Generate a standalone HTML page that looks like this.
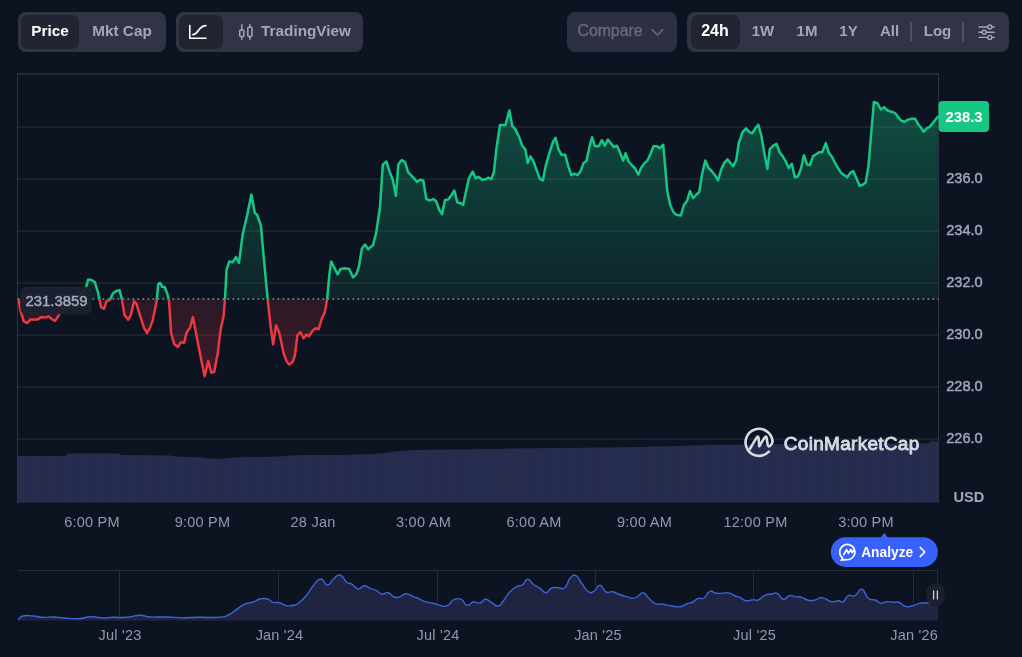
<!DOCTYPE html>
<html><head><meta charset="utf-8"><title>Chart</title>
<style>
html,body{margin:0;padding:0;}
body{width:1022px;height:657px;background:#0d1421;overflow:hidden;position:relative;font-family:"Liberation Sans",sans-serif;}
.grp{position:absolute;top:12px;height:40px;background:#313445;border-radius:8px;will-change:transform;}
.sel{position:absolute;top:3px;height:34px;background:#222531;border-radius:7px;}
.t{position:absolute;top:0;height:40px;line-height:37px;font-size:15.3px;font-weight:bold;color:#a1a7bb;white-space:nowrap;text-align:center;transform:translateX(-50%);}
.w{color:#fff;}
svg{position:absolute;left:0;top:0;will-change:transform;}
svg text{font-family:"Liberation Sans",sans-serif;}
</style></head><body>

<div class="grp" style="left:18px;width:148px;">
  <div class="sel" style="left:3px;width:58px;"></div>
  <div class="t w" style="left:32px;">Price</div>
  <div class="t" style="left:104px;">Mkt Cap</div>
</div>

<div class="grp" style="left:176px;width:187px;">
  <div class="sel" style="left:3px;width:44px;"></div>
  <div class="t" style="left:130px;">TradingView</div>
</div>

<div class="grp" style="left:567px;width:110px;background:#2d3042;">
  <div class="t" style="left:43px;color:#646b80;font-weight:normal;font-size:15.8px;-webkit-text-stroke:0.35px #646b80;">Compare</div>
</div>

<div class="grp" style="left:687px;width:322px;">
  <div class="sel" style="left:4px;width:49px;"></div>
  <div class="t w" style="left:28px;font-size:16px;">24h</div>
  <div class="t" style="left:76px;font-size:15px;line-height:38px;">1W</div>
  <div class="t" style="left:120px;font-size:15px;line-height:38px;">1M</div>
  <div class="t" style="left:161.5px;font-size:15px;line-height:38px;">1Y</div>
  <div class="t" style="left:202.5px;font-size:15px;line-height:38px;">All</div>
  <div class="t" style="left:250.5px;font-size:15px;line-height:38px;">Log</div>
</div>

<svg width="1022" height="657" viewBox="0 0 1022 657">
  <defs>
    <clipPath id="au"><rect x="0" y="60" width="937.8" height="239"/></clipPath>
    <clipPath id="ad"><rect x="0" y="299" width="937.8" height="140"/></clipPath>
    <clipPath id="cu"><rect x="0" y="60" width="1022" height="239"/></clipPath>
    <clipPath id="cd"><rect x="0" y="299" width="1022" height="140"/></clipPath>
    <pattern id="vs" x="17.5" y="0" width="3.198" height="10" patternUnits="userSpaceOnUse"><rect x="0" y="0" width="0.9" height="10" fill="#1b2040" fill-opacity="0.55"/></pattern>
    <linearGradient id="gg" x1="0" y1="100" x2="0" y2="299" gradientUnits="userSpaceOnUse">
      <stop offset="0" stop-color="#16c784" stop-opacity="0.33"/>
      <stop offset="1" stop-color="#16c784" stop-opacity="0.09"/>
    </linearGradient>
    <linearGradient id="gr" x1="0" y1="299" x2="0" y2="380" gradientUnits="userSpaceOnUse">
      <stop offset="0" stop-color="#ea3943" stop-opacity="0.14"/>
      <stop offset="1" stop-color="#ea3943" stop-opacity="0.21"/>
    </linearGradient>
  </defs>

  <!-- toolbar icons -->
  <g fill="none" stroke="#fff" stroke-width="1.6" stroke-linecap="round" stroke-linejoin="round">
    <path d="M189.8,25.5 V38.3 H206"/>
    <path d="M192.8,34.6 C199,34.6 198,25.6 206,25.6"/>
  </g>
  <g fill="none" stroke="#a1a7bb" stroke-width="1.5" stroke-linecap="round" stroke-linejoin="round">
    <path d="M241.8,24.8 V30 M241.8,36.4 V39.2 M249.9,24.8 V27.2 M249.9,36.4 V39.2"/>
    <rect x="239.7" y="30" width="4.2" height="6.4" rx="1"/>
    <rect x="247.8" y="27.2" width="4.2" height="9.2" rx="1"/>
  </g>
  <path d="M652.2,29.6 L657.5,35 L662.8,29.6" fill="none" stroke="#646b80" stroke-width="1.6" stroke-linecap="round" stroke-linejoin="round"/>
  <g stroke="#585d72" stroke-width="1.5">
    <line x1="911" x2="911" y1="22" y2="41.5"/>
    <line x1="963" x2="963" y1="22" y2="41.5"/>
  </g>
  <g fill="none" stroke="#a1a7bb" stroke-width="1.4" stroke-linecap="round">
    <path d="M979,27 H987.6 M992,27 H994.2 M979,32.2 H982 M986.4,32.2 H994.2 M979,37.4 H987.6 M992,37.4 H994.2"/>
    <circle cx="989.8" cy="27" r="2"/>
    <circle cx="984.2" cy="32.2" r="2"/>
    <circle cx="989.8" cy="37.4" r="2"/>
  </g>

  <!-- grid -->
  <g stroke="#2f3342" stroke-width="1" fill="none" shape-rendering="crispEdges">
    <path d="M17.5,502.5 V74 M938.5,74 V502.5"/>
  </g>
  <line x1="17.0" x2="939.0" y1="74" y2="74" stroke="#2d3140" stroke-width="1.6"/>

  <!-- volume -->
  <path d="M18.0,456.0 L65.0,456.0 L68.0,453.5 L118.0,453.5 L121.0,455.0 L170.0,455.5 L175.0,456.5 L200.0,457.5 L215.0,459.0 L225.0,458.5 L235.0,457.5 L260.0,457.0 L280.0,456.5 L300.0,455.0 L340.0,455.0 L375.0,454.0 L385.0,453.0 L395.0,451.5 L415.0,450.0 L460.0,449.5 L500.0,449.0 L511.0,448.5 L560.0,448.0 L611.0,447.5 L660.0,446.5 L711.0,445.0 L760.0,444.5 L811.0,444.0 L870.0,443.7 L926.0,443.5 L929.0,443.5 L930.0,441.5 L938.5,441.5 L938.5,502.5 L18,502.5 Z" fill="#282e50"/>
  <path d="M18.0,456.0 L65.0,456.0 L68.0,453.5 L118.0,453.5 L121.0,455.0 L170.0,455.5 L175.0,456.5 L200.0,457.5 L215.0,459.0 L225.0,458.5 L235.0,457.5 L260.0,457.0 L280.0,456.5 L300.0,455.0 L340.0,455.0 L375.0,454.0 L385.0,453.0 L395.0,451.5 L415.0,450.0 L460.0,449.5 L500.0,449.0 L511.0,448.5 L560.0,448.0 L611.0,447.5 L660.0,446.5 L711.0,445.0 L760.0,444.5 L811.0,444.0 L870.0,443.7 L926.0,443.5 L929.0,443.5 L930.0,441.5 L938.5,441.5 L938.5,502.5 L18,502.5 Z" fill="url(#vs)"/>

  <!-- area -->
  <path d="M18.8,300.1 L20.0,308.8 L23.8,321.4 L27.1,323.1 L30.6,319.4 L35.1,319.6 L37.6,319.4 L41.3,317.1 L45.1,317.6 L48.8,316.4 L51.4,318.9 L55.1,320.9 L58.9,315.1 L65.6,305.1 L72.6,300.1 L80.2,295.1 L86.4,286.3 L88.2,279.5 L91.4,280.0 L94.7,282.0 L97.7,291.3 L99.4,298.8 L101.0,307.1 L104.0,308.8 L106.5,301.3 L110.2,299.6 L112.7,293.8 L115.7,291.3 L119.5,290.1 L121.5,297.6 L124.5,315.1 L128.3,319.6 L130.8,315.1 L134.0,301.3 L136.5,303.8 L140.3,316.4 L144.0,327.6 L147.0,333.1 L149.8,328.1 L152.8,320.1 L156.6,301.3 L158.3,283.8 L160.3,283.0 L162.3,286.8 L164.8,287.1 L167.3,293.8 L169.1,301.3 L171.1,332.6 L174.1,343.9 L177.9,346.9 L180.9,342.2 L184.1,342.7 L186.6,332.6 L189.9,328.1 L192.9,317.1 L195.4,330.1 L200.0,353.5 L204.6,376.3 L208.2,361.1 L211.3,372.7 L214.3,371.8 L217.7,353.5 L220.7,329.2 L223.7,315.5 L225.0,298.7 L226.5,269.8 L229.2,261.6 L232.9,262.2 L235.9,257.0 L239.0,262.8 L242.6,234.8 L247.2,215.0 L251.4,194.6 L254.8,212.9 L257.2,215.0 L260.9,225.7 L263.9,259.1 L267.6,298.7 L270.6,326.1 L273.1,344.4 L276.1,325.5 L279.1,332.2 L283.7,353.5 L286.8,361.7 L289.2,364.5 L292.8,361.7 L295.0,355.0 L297.4,335.3 L300.5,332.2 L303.5,338.3 L306.5,334.6 L309.0,336.2 L312.6,330.7 L315.7,328.2 L318.7,329.2 L321.8,318.5 L324.8,312.4 L327.2,298.7 L329.4,274.4 L331.2,261.6 L333.9,266.8 L337.6,274.4 L340.6,268.9 L344.6,268.3 L349.2,268.9 L353.1,277.4 L356.2,274.4 L358.9,266.8 L361.9,248.5 L365.0,244.5 L368.3,249.4 L371.4,246.4 L373.0,245.3 L376.1,233.1 L380.0,207.2 L382.8,164.6 L386.4,161.5 L389.8,172.2 L392.8,179.8 L395.9,195.9 L398.3,164.6 L401.7,160.0 L405.0,162.1 L408.1,172.2 L412.6,176.8 L417.2,181.9 L420.2,179.8 L423.3,180.7 L426.3,199.0 L430.0,200.5 L433.0,199.0 L436.1,201.1 L439.4,210.2 L442.1,214.2 L444.9,200.2 L448.2,199.6 L451.6,195.0 L454.3,190.5 L457.4,202.6 L460.4,203.2 L463.2,204.8 L465.9,192.0 L468.9,178.3 L472.6,171.6 L475.6,178.3 L478.4,176.8 L482.0,179.8 L485.7,179.2 L488.7,177.7 L491.2,179.2 L493.9,172.2 L496.3,149.4 L500.0,125.0 L505.5,125.0 L509.4,110.4 L512.2,125.9 L515.5,129.6 L519.2,137.2 L522.2,145.7 L525.3,149.4 L527.7,163.1 L530.4,156.4 L533.5,161.5 L536.5,169.8 L539.9,178.9 L542.9,180.4 L546.0,164.6 L549.6,152.4 L553.0,141.8 L555.5,137.8 L558.5,149.4 L561.6,154.8 L565.2,154.8 L568.3,166.1 L571.3,175.2 L574.4,173.7 L577.4,175.2 L580.4,171.6 L583.5,163.1 L586.5,160.9 L589.6,146.3 L592.0,137.2 L595.1,146.3 L598.7,146.3 L601.8,140.2 L604.8,145.7 L607.8,139.6 L610.9,143.3 L613.9,147.2 L617.0,145.7 L620.0,152.4 L623.1,160.6 L625.5,153.3 L628.5,161.5 L632.2,165.5 L635.2,168.5 L638.3,174.6 L641.3,167.6 L644.4,163.1 L647.4,160.6 L650.5,153.9 L653.5,146.3 L657.2,146.3 L659.6,148.4 L663.2,144.8 L665.1,166.1 L667.2,190.5 L670.2,205.1 L673.3,211.8 L676.3,214.8 L680.9,215.4 L683.9,205.1 L687.0,201.1 L690.0,191.1 L693.1,198.1 L696.1,195.0 L699.2,192.0 L702.2,173.7 L705.3,160.6 L708.3,167.6 L711.3,170.7 L715.0,175.2 L718.0,180.4 L721.1,169.8 L724.1,163.1 L727.5,159.4 L730.5,163.1 L733.3,166.1 L736.3,160.0 L738.7,143.3 L742.4,132.4 L746.1,128.4 L749.1,131.8 L752.2,133.3 L755.8,127.8 L758.3,124.8 L761.3,135.4 L764.4,153.7 L767.4,168.9 L769.8,149.1 L773.5,145.5 L776.5,143.7 L779.6,152.2 L782.6,156.1 L785.7,161.3 L788.7,168.0 L791.8,163.8 L794.8,177.2 L797.8,176.5 L800.9,168.9 L803.9,155.2 L807.0,164.4 L810.0,165.0 L813.1,156.1 L816.1,154.3 L819.1,152.2 L822.2,152.2 L825.8,143.1 L828.9,152.8 L831.9,156.8 L835.0,162.8 L838.0,168.0 L841.1,172.9 L844.1,175.0 L847.2,177.2 L850.2,172.9 L853.2,171.1 L856.3,178.1 L859.6,185.7 L862.7,184.8 L865.7,182.6 L868.5,165.9 L870.9,137.0 L873.9,102.0 L877.6,103.5 L880.9,109.6 L884.0,107.1 L887.6,110.5 L891.3,111.7 L895.3,113.2 L898.3,117.2 L901.3,120.8 L904.4,121.8 L908.0,119.6 L912.0,118.7 L915.0,118.7 L918.1,124.2 L921.1,127.8 L923.6,131.8 L926.6,128.4 L929.6,126.9 L933.3,122.4 L936.3,118.7 L938.5,116.3 L938.5,299 L18.8,299 Z" fill="url(#gg)" clip-path="url(#au)"/>
  <path d="M18.8,300.1 L20.0,308.8 L23.8,321.4 L27.1,323.1 L30.6,319.4 L35.1,319.6 L37.6,319.4 L41.3,317.1 L45.1,317.6 L48.8,316.4 L51.4,318.9 L55.1,320.9 L58.9,315.1 L65.6,305.1 L72.6,300.1 L80.2,295.1 L86.4,286.3 L88.2,279.5 L91.4,280.0 L94.7,282.0 L97.7,291.3 L99.4,298.8 L101.0,307.1 L104.0,308.8 L106.5,301.3 L110.2,299.6 L112.7,293.8 L115.7,291.3 L119.5,290.1 L121.5,297.6 L124.5,315.1 L128.3,319.6 L130.8,315.1 L134.0,301.3 L136.5,303.8 L140.3,316.4 L144.0,327.6 L147.0,333.1 L149.8,328.1 L152.8,320.1 L156.6,301.3 L158.3,283.8 L160.3,283.0 L162.3,286.8 L164.8,287.1 L167.3,293.8 L169.1,301.3 L171.1,332.6 L174.1,343.9 L177.9,346.9 L180.9,342.2 L184.1,342.7 L186.6,332.6 L189.9,328.1 L192.9,317.1 L195.4,330.1 L200.0,353.5 L204.6,376.3 L208.2,361.1 L211.3,372.7 L214.3,371.8 L217.7,353.5 L220.7,329.2 L223.7,315.5 L225.0,298.7 L226.5,269.8 L229.2,261.6 L232.9,262.2 L235.9,257.0 L239.0,262.8 L242.6,234.8 L247.2,215.0 L251.4,194.6 L254.8,212.9 L257.2,215.0 L260.9,225.7 L263.9,259.1 L267.6,298.7 L270.6,326.1 L273.1,344.4 L276.1,325.5 L279.1,332.2 L283.7,353.5 L286.8,361.7 L289.2,364.5 L292.8,361.7 L295.0,355.0 L297.4,335.3 L300.5,332.2 L303.5,338.3 L306.5,334.6 L309.0,336.2 L312.6,330.7 L315.7,328.2 L318.7,329.2 L321.8,318.5 L324.8,312.4 L327.2,298.7 L329.4,274.4 L331.2,261.6 L333.9,266.8 L337.6,274.4 L340.6,268.9 L344.6,268.3 L349.2,268.9 L353.1,277.4 L356.2,274.4 L358.9,266.8 L361.9,248.5 L365.0,244.5 L368.3,249.4 L371.4,246.4 L373.0,245.3 L376.1,233.1 L380.0,207.2 L382.8,164.6 L386.4,161.5 L389.8,172.2 L392.8,179.8 L395.9,195.9 L398.3,164.6 L401.7,160.0 L405.0,162.1 L408.1,172.2 L412.6,176.8 L417.2,181.9 L420.2,179.8 L423.3,180.7 L426.3,199.0 L430.0,200.5 L433.0,199.0 L436.1,201.1 L439.4,210.2 L442.1,214.2 L444.9,200.2 L448.2,199.6 L451.6,195.0 L454.3,190.5 L457.4,202.6 L460.4,203.2 L463.2,204.8 L465.9,192.0 L468.9,178.3 L472.6,171.6 L475.6,178.3 L478.4,176.8 L482.0,179.8 L485.7,179.2 L488.7,177.7 L491.2,179.2 L493.9,172.2 L496.3,149.4 L500.0,125.0 L505.5,125.0 L509.4,110.4 L512.2,125.9 L515.5,129.6 L519.2,137.2 L522.2,145.7 L525.3,149.4 L527.7,163.1 L530.4,156.4 L533.5,161.5 L536.5,169.8 L539.9,178.9 L542.9,180.4 L546.0,164.6 L549.6,152.4 L553.0,141.8 L555.5,137.8 L558.5,149.4 L561.6,154.8 L565.2,154.8 L568.3,166.1 L571.3,175.2 L574.4,173.7 L577.4,175.2 L580.4,171.6 L583.5,163.1 L586.5,160.9 L589.6,146.3 L592.0,137.2 L595.1,146.3 L598.7,146.3 L601.8,140.2 L604.8,145.7 L607.8,139.6 L610.9,143.3 L613.9,147.2 L617.0,145.7 L620.0,152.4 L623.1,160.6 L625.5,153.3 L628.5,161.5 L632.2,165.5 L635.2,168.5 L638.3,174.6 L641.3,167.6 L644.4,163.1 L647.4,160.6 L650.5,153.9 L653.5,146.3 L657.2,146.3 L659.6,148.4 L663.2,144.8 L665.1,166.1 L667.2,190.5 L670.2,205.1 L673.3,211.8 L676.3,214.8 L680.9,215.4 L683.9,205.1 L687.0,201.1 L690.0,191.1 L693.1,198.1 L696.1,195.0 L699.2,192.0 L702.2,173.7 L705.3,160.6 L708.3,167.6 L711.3,170.7 L715.0,175.2 L718.0,180.4 L721.1,169.8 L724.1,163.1 L727.5,159.4 L730.5,163.1 L733.3,166.1 L736.3,160.0 L738.7,143.3 L742.4,132.4 L746.1,128.4 L749.1,131.8 L752.2,133.3 L755.8,127.8 L758.3,124.8 L761.3,135.4 L764.4,153.7 L767.4,168.9 L769.8,149.1 L773.5,145.5 L776.5,143.7 L779.6,152.2 L782.6,156.1 L785.7,161.3 L788.7,168.0 L791.8,163.8 L794.8,177.2 L797.8,176.5 L800.9,168.9 L803.9,155.2 L807.0,164.4 L810.0,165.0 L813.1,156.1 L816.1,154.3 L819.1,152.2 L822.2,152.2 L825.8,143.1 L828.9,152.8 L831.9,156.8 L835.0,162.8 L838.0,168.0 L841.1,172.9 L844.1,175.0 L847.2,177.2 L850.2,172.9 L853.2,171.1 L856.3,178.1 L859.6,185.7 L862.7,184.8 L865.7,182.6 L868.5,165.9 L870.9,137.0 L873.9,102.0 L877.6,103.5 L880.9,109.6 L884.0,107.1 L887.6,110.5 L891.3,111.7 L895.3,113.2 L898.3,117.2 L901.3,120.8 L904.4,121.8 L908.0,119.6 L912.0,118.7 L915.0,118.7 L918.1,124.2 L921.1,127.8 L923.6,131.8 L926.6,128.4 L929.6,126.9 L933.3,122.4 L936.3,118.7 L938.5,116.3 L938.5,299 L18.8,299 Z" fill="url(#gr)" clip-path="url(#ad)"/>
  <g stroke="#a9afc3" stroke-opacity="0.17" stroke-width="1.2">
    <line x1="17.5" x2="938.5" y1="127" y2="127"/><line x1="17.5" x2="938.5" y1="179" y2="179"/><line x1="17.5" x2="938.5" y1="231" y2="231"/><line x1="17.5" x2="938.5" y1="283" y2="283"/><line x1="17.5" x2="938.5" y1="335" y2="335"/><line x1="17.5" x2="938.5" y1="387" y2="387"/><line x1="17.5" x2="938.5" y1="439" y2="439"/>
  </g>
  <!-- baseline dotted -->
  <line x1="17.5" x2="938.5" y1="299" y2="299" stroke="#8d919e" stroke-width="1.5" stroke-dasharray="1.7 3.3"/>
  <path d="M18.8,300.1 L20.0,308.8 L23.8,321.4 L27.1,323.1 L30.6,319.4 L35.1,319.6 L37.6,319.4 L41.3,317.1 L45.1,317.6 L48.8,316.4 L51.4,318.9 L55.1,320.9 L58.9,315.1 L65.6,305.1 L72.6,300.1 L80.2,295.1 L86.4,286.3 L88.2,279.5 L91.4,280.0 L94.7,282.0 L97.7,291.3 L99.4,298.8 L101.0,307.1 L104.0,308.8 L106.5,301.3 L110.2,299.6 L112.7,293.8 L115.7,291.3 L119.5,290.1 L121.5,297.6 L124.5,315.1 L128.3,319.6 L130.8,315.1 L134.0,301.3 L136.5,303.8 L140.3,316.4 L144.0,327.6 L147.0,333.1 L149.8,328.1 L152.8,320.1 L156.6,301.3 L158.3,283.8 L160.3,283.0 L162.3,286.8 L164.8,287.1 L167.3,293.8 L169.1,301.3 L171.1,332.6 L174.1,343.9 L177.9,346.9 L180.9,342.2 L184.1,342.7 L186.6,332.6 L189.9,328.1 L192.9,317.1 L195.4,330.1 L200.0,353.5 L204.6,376.3 L208.2,361.1 L211.3,372.7 L214.3,371.8 L217.7,353.5 L220.7,329.2 L223.7,315.5 L225.0,298.7 L226.5,269.8 L229.2,261.6 L232.9,262.2 L235.9,257.0 L239.0,262.8 L242.6,234.8 L247.2,215.0 L251.4,194.6 L254.8,212.9 L257.2,215.0 L260.9,225.7 L263.9,259.1 L267.6,298.7 L270.6,326.1 L273.1,344.4 L276.1,325.5 L279.1,332.2 L283.7,353.5 L286.8,361.7 L289.2,364.5 L292.8,361.7 L295.0,355.0 L297.4,335.3 L300.5,332.2 L303.5,338.3 L306.5,334.6 L309.0,336.2 L312.6,330.7 L315.7,328.2 L318.7,329.2 L321.8,318.5 L324.8,312.4 L327.2,298.7 L329.4,274.4 L331.2,261.6 L333.9,266.8 L337.6,274.4 L340.6,268.9 L344.6,268.3 L349.2,268.9 L353.1,277.4 L356.2,274.4 L358.9,266.8 L361.9,248.5 L365.0,244.5 L368.3,249.4 L371.4,246.4 L373.0,245.3 L376.1,233.1 L380.0,207.2 L382.8,164.6 L386.4,161.5 L389.8,172.2 L392.8,179.8 L395.9,195.9 L398.3,164.6 L401.7,160.0 L405.0,162.1 L408.1,172.2 L412.6,176.8 L417.2,181.9 L420.2,179.8 L423.3,180.7 L426.3,199.0 L430.0,200.5 L433.0,199.0 L436.1,201.1 L439.4,210.2 L442.1,214.2 L444.9,200.2 L448.2,199.6 L451.6,195.0 L454.3,190.5 L457.4,202.6 L460.4,203.2 L463.2,204.8 L465.9,192.0 L468.9,178.3 L472.6,171.6 L475.6,178.3 L478.4,176.8 L482.0,179.8 L485.7,179.2 L488.7,177.7 L491.2,179.2 L493.9,172.2 L496.3,149.4 L500.0,125.0 L505.5,125.0 L509.4,110.4 L512.2,125.9 L515.5,129.6 L519.2,137.2 L522.2,145.7 L525.3,149.4 L527.7,163.1 L530.4,156.4 L533.5,161.5 L536.5,169.8 L539.9,178.9 L542.9,180.4 L546.0,164.6 L549.6,152.4 L553.0,141.8 L555.5,137.8 L558.5,149.4 L561.6,154.8 L565.2,154.8 L568.3,166.1 L571.3,175.2 L574.4,173.7 L577.4,175.2 L580.4,171.6 L583.5,163.1 L586.5,160.9 L589.6,146.3 L592.0,137.2 L595.1,146.3 L598.7,146.3 L601.8,140.2 L604.8,145.7 L607.8,139.6 L610.9,143.3 L613.9,147.2 L617.0,145.7 L620.0,152.4 L623.1,160.6 L625.5,153.3 L628.5,161.5 L632.2,165.5 L635.2,168.5 L638.3,174.6 L641.3,167.6 L644.4,163.1 L647.4,160.6 L650.5,153.9 L653.5,146.3 L657.2,146.3 L659.6,148.4 L663.2,144.8 L665.1,166.1 L667.2,190.5 L670.2,205.1 L673.3,211.8 L676.3,214.8 L680.9,215.4 L683.9,205.1 L687.0,201.1 L690.0,191.1 L693.1,198.1 L696.1,195.0 L699.2,192.0 L702.2,173.7 L705.3,160.6 L708.3,167.6 L711.3,170.7 L715.0,175.2 L718.0,180.4 L721.1,169.8 L724.1,163.1 L727.5,159.4 L730.5,163.1 L733.3,166.1 L736.3,160.0 L738.7,143.3 L742.4,132.4 L746.1,128.4 L749.1,131.8 L752.2,133.3 L755.8,127.8 L758.3,124.8 L761.3,135.4 L764.4,153.7 L767.4,168.9 L769.8,149.1 L773.5,145.5 L776.5,143.7 L779.6,152.2 L782.6,156.1 L785.7,161.3 L788.7,168.0 L791.8,163.8 L794.8,177.2 L797.8,176.5 L800.9,168.9 L803.9,155.2 L807.0,164.4 L810.0,165.0 L813.1,156.1 L816.1,154.3 L819.1,152.2 L822.2,152.2 L825.8,143.1 L828.9,152.8 L831.9,156.8 L835.0,162.8 L838.0,168.0 L841.1,172.9 L844.1,175.0 L847.2,177.2 L850.2,172.9 L853.2,171.1 L856.3,178.1 L859.6,185.7 L862.7,184.8 L865.7,182.6 L868.5,165.9 L870.9,137.0 L873.9,102.0 L877.6,103.5 L880.9,109.6 L884.0,107.1 L887.6,110.5 L891.3,111.7 L895.3,113.2 L898.3,117.2 L901.3,120.8 L904.4,121.8 L908.0,119.6 L912.0,118.7 L915.0,118.7 L918.1,124.2 L921.1,127.8 L923.6,131.8 L926.6,128.4 L929.6,126.9 L933.3,122.4 L936.3,118.7 L938.5,116.3" fill="none" stroke="#16c784" stroke-width="2.5" stroke-linejoin="round" stroke-linecap="round" clip-path="url(#cu)"/>
  <path d="M18.8,300.1 L20.0,308.8 L23.8,321.4 L27.1,323.1 L30.6,319.4 L35.1,319.6 L37.6,319.4 L41.3,317.1 L45.1,317.6 L48.8,316.4 L51.4,318.9 L55.1,320.9 L58.9,315.1 L65.6,305.1 L72.6,300.1 L80.2,295.1 L86.4,286.3 L88.2,279.5 L91.4,280.0 L94.7,282.0 L97.7,291.3 L99.4,298.8 L101.0,307.1 L104.0,308.8 L106.5,301.3 L110.2,299.6 L112.7,293.8 L115.7,291.3 L119.5,290.1 L121.5,297.6 L124.5,315.1 L128.3,319.6 L130.8,315.1 L134.0,301.3 L136.5,303.8 L140.3,316.4 L144.0,327.6 L147.0,333.1 L149.8,328.1 L152.8,320.1 L156.6,301.3 L158.3,283.8 L160.3,283.0 L162.3,286.8 L164.8,287.1 L167.3,293.8 L169.1,301.3 L171.1,332.6 L174.1,343.9 L177.9,346.9 L180.9,342.2 L184.1,342.7 L186.6,332.6 L189.9,328.1 L192.9,317.1 L195.4,330.1 L200.0,353.5 L204.6,376.3 L208.2,361.1 L211.3,372.7 L214.3,371.8 L217.7,353.5 L220.7,329.2 L223.7,315.5 L225.0,298.7 L226.5,269.8 L229.2,261.6 L232.9,262.2 L235.9,257.0 L239.0,262.8 L242.6,234.8 L247.2,215.0 L251.4,194.6 L254.8,212.9 L257.2,215.0 L260.9,225.7 L263.9,259.1 L267.6,298.7 L270.6,326.1 L273.1,344.4 L276.1,325.5 L279.1,332.2 L283.7,353.5 L286.8,361.7 L289.2,364.5 L292.8,361.7 L295.0,355.0 L297.4,335.3 L300.5,332.2 L303.5,338.3 L306.5,334.6 L309.0,336.2 L312.6,330.7 L315.7,328.2 L318.7,329.2 L321.8,318.5 L324.8,312.4 L327.2,298.7 L329.4,274.4 L331.2,261.6 L333.9,266.8 L337.6,274.4 L340.6,268.9 L344.6,268.3 L349.2,268.9 L353.1,277.4 L356.2,274.4 L358.9,266.8 L361.9,248.5 L365.0,244.5 L368.3,249.4 L371.4,246.4 L373.0,245.3 L376.1,233.1 L380.0,207.2 L382.8,164.6 L386.4,161.5 L389.8,172.2 L392.8,179.8 L395.9,195.9 L398.3,164.6 L401.7,160.0 L405.0,162.1 L408.1,172.2 L412.6,176.8 L417.2,181.9 L420.2,179.8 L423.3,180.7 L426.3,199.0 L430.0,200.5 L433.0,199.0 L436.1,201.1 L439.4,210.2 L442.1,214.2 L444.9,200.2 L448.2,199.6 L451.6,195.0 L454.3,190.5 L457.4,202.6 L460.4,203.2 L463.2,204.8 L465.9,192.0 L468.9,178.3 L472.6,171.6 L475.6,178.3 L478.4,176.8 L482.0,179.8 L485.7,179.2 L488.7,177.7 L491.2,179.2 L493.9,172.2 L496.3,149.4 L500.0,125.0 L505.5,125.0 L509.4,110.4 L512.2,125.9 L515.5,129.6 L519.2,137.2 L522.2,145.7 L525.3,149.4 L527.7,163.1 L530.4,156.4 L533.5,161.5 L536.5,169.8 L539.9,178.9 L542.9,180.4 L546.0,164.6 L549.6,152.4 L553.0,141.8 L555.5,137.8 L558.5,149.4 L561.6,154.8 L565.2,154.8 L568.3,166.1 L571.3,175.2 L574.4,173.7 L577.4,175.2 L580.4,171.6 L583.5,163.1 L586.5,160.9 L589.6,146.3 L592.0,137.2 L595.1,146.3 L598.7,146.3 L601.8,140.2 L604.8,145.7 L607.8,139.6 L610.9,143.3 L613.9,147.2 L617.0,145.7 L620.0,152.4 L623.1,160.6 L625.5,153.3 L628.5,161.5 L632.2,165.5 L635.2,168.5 L638.3,174.6 L641.3,167.6 L644.4,163.1 L647.4,160.6 L650.5,153.9 L653.5,146.3 L657.2,146.3 L659.6,148.4 L663.2,144.8 L665.1,166.1 L667.2,190.5 L670.2,205.1 L673.3,211.8 L676.3,214.8 L680.9,215.4 L683.9,205.1 L687.0,201.1 L690.0,191.1 L693.1,198.1 L696.1,195.0 L699.2,192.0 L702.2,173.7 L705.3,160.6 L708.3,167.6 L711.3,170.7 L715.0,175.2 L718.0,180.4 L721.1,169.8 L724.1,163.1 L727.5,159.4 L730.5,163.1 L733.3,166.1 L736.3,160.0 L738.7,143.3 L742.4,132.4 L746.1,128.4 L749.1,131.8 L752.2,133.3 L755.8,127.8 L758.3,124.8 L761.3,135.4 L764.4,153.7 L767.4,168.9 L769.8,149.1 L773.5,145.5 L776.5,143.7 L779.6,152.2 L782.6,156.1 L785.7,161.3 L788.7,168.0 L791.8,163.8 L794.8,177.2 L797.8,176.5 L800.9,168.9 L803.9,155.2 L807.0,164.4 L810.0,165.0 L813.1,156.1 L816.1,154.3 L819.1,152.2 L822.2,152.2 L825.8,143.1 L828.9,152.8 L831.9,156.8 L835.0,162.8 L838.0,168.0 L841.1,172.9 L844.1,175.0 L847.2,177.2 L850.2,172.9 L853.2,171.1 L856.3,178.1 L859.6,185.7 L862.7,184.8 L865.7,182.6 L868.5,165.9 L870.9,137.0 L873.9,102.0 L877.6,103.5 L880.9,109.6 L884.0,107.1 L887.6,110.5 L891.3,111.7 L895.3,113.2 L898.3,117.2 L901.3,120.8 L904.4,121.8 L908.0,119.6 L912.0,118.7 L915.0,118.7 L918.1,124.2 L921.1,127.8 L923.6,131.8 L926.6,128.4 L929.6,126.9 L933.3,122.4 L936.3,118.7 L938.5,116.3" fill="none" stroke="#ea3943" stroke-width="2.5" stroke-linejoin="round" stroke-linecap="round" clip-path="url(#cd)"/>

  <!-- base label -->
  <rect x="20.3" y="286.8" width="71.4" height="27.8" rx="6" fill="#1d2130" fill-opacity="0.93"/>
  <text x="25.6" y="306" font-size="14.6" fill="#a1a7bb" stroke="#a1a7bb" stroke-width="0.5" textLength="61.8" lengthAdjust="spacingAndGlyphs">231.3859</text>

  <!-- y labels -->
  <g font-size="14.6" fill="#a1a7bb" stroke="#a1a7bb" stroke-width="0.45"><text x="946.2" y="183.2">236.0</text><text x="946.2" y="235.2">234.0</text><text x="946.2" y="287.2">232.0</text><text x="946.2" y="339.2">230.0</text><text x="946.2" y="391.2">228.0</text><text x="946.2" y="443.2">226.0</text></g>
  <text x="953.5" y="502" font-size="14.6" font-weight="bold" fill="#a1a7bb">USD</text>

  <!-- current price tag -->
  <rect x="938.5" y="101" width="50.5" height="31" rx="4" fill="#16c784"/>
  <text x="945.4" y="121.7" font-size="15" font-weight="bold" fill="#fff" textLength="37.2" lengthAdjust="spacingAndGlyphs">238.3</text>

  <!-- x labels -->
  <g font-size="14.5" fill="#9398ac" text-anchor="middle" letter-spacing="0.25"><text x="92" y="527">6:00 PM</text><text x="202.5" y="527">9:00 PM</text><text x="313" y="527">28 Jan</text><text x="423.5" y="527">3:00 AM</text><text x="534" y="527">6:00 AM</text><text x="644.5" y="527">9:00 AM</text><text x="755.5" y="527">12:00 PM</text><text x="866" y="527">3:00 PM</text></g>

  <!-- watermark -->
  <g fill="none" stroke="#d6dae4" stroke-width="2.6" stroke-linecap="round" stroke-linejoin="round">
    <path d="M768.9,451.6 A13.5,13.5 0 1 1 772.5,441.4"/>
    <path d="M749.9,448.8 L756.6,437.6 Q758.2,435.2 758.6,438.2 L759.2,446.2 L764.6,437.6 Q766.2,435.2 766.7,438.2 L767.6,444.2 Q768.4,447.6 770.4,445.6 Q772.6,443.8 772.5,441.4"/>
  </g>
  <text x="783.8" y="450" font-size="19" fill="#d6dae4" stroke="#d6dae4" stroke-width="0.9" textLength="135.5" lengthAdjust="spacing">CoinMarketCap</text>

  <!-- analyze -->
  <path d="M879.3,539 L884.2,533 L889.1,539 Z" fill="#3861fb"/>
  <rect x="830.8" y="537.2" width="107" height="29.7" rx="14.85" fill="#3861fb"/>
  <g fill="none" stroke="#fff" stroke-width="1.6" stroke-linecap="round" stroke-linejoin="round">
    <path d="M842.8,558.2 A7.6,7.6 0 1 1 846.2,559.6 L841,560.3 Z"/>
    <path d="M843.8,554.6 L846.6,549.6 L848.4,553.4 L850.8,549.4 L852.2,552.6 L853.6,550.6" stroke-width="1.7"/>
    <path d="M920.2,547.4 L924.8,552 L920.2,556.6"/>
  </g>
  <text x="861.2" y="557" font-size="14" font-weight="bold" fill="#fff" textLength="52" lengthAdjust="spacingAndGlyphs">Analyze</text>

  <!-- mini chart -->
  <g stroke="#262b39" stroke-width="1" shape-rendering="crispEdges">
    <line x1="18" x2="938" y1="570.5" y2="570.5"/>
    <line x1="119.5" x2="119.5" y1="570.5" y2="620"/><line x1="278.5" x2="278.5" y1="570.5" y2="620"/><line x1="437.5" x2="437.5" y1="570.5" y2="620"/><line x1="595.5" x2="595.5" y1="570.5" y2="620"/><line x1="753.5" x2="753.5" y1="570.5" y2="620"/><line x1="913.5" x2="913.5" y1="570.5" y2="620"/>
    <line x1="937.5" x2="937.5" y1="570.5" y2="620"/>
  </g>
  <path d="M18.3,620.0 C19.5,618.9 18.7,617.1 22.7,616.0 C26.7,614.9 27.8,615.6 33.3,616.0 C38.8,616.4 38.0,617.1 43.3,617.3 C48.7,617.6 48.0,616.8 53.3,617.0 C58.7,617.2 56.7,617.6 63.3,618.0 C70.0,618.4 71.7,618.9 78.3,618.7 C85.0,618.4 83.9,617.4 88.3,617.0 C92.8,616.6 91.0,616.7 95.0,617.0 C99.0,617.3 98.4,617.9 103.3,618.0 C108.2,618.1 107.1,617.5 113.3,617.3 C119.6,617.2 119.6,617.9 126.7,617.3 C133.8,616.8 133.8,615.4 140.0,615.3 C146.2,615.2 142.9,616.6 150.0,617.0 C157.1,617.4 157.8,616.8 166.7,617.0 C175.6,617.2 174.4,617.6 183.3,617.7 C192.2,617.8 190.7,617.4 200.0,617.3 C209.3,617.2 210.8,618.0 218.3,617.3 C225.9,616.7 223.4,617.1 228.3,615.0 C233.2,612.9 232.2,612.3 236.7,609.3 C241.1,606.4 240.6,606.0 245.0,604.0 C249.4,602.0 249.3,603.3 253.3,602.0 C257.3,600.7 256.2,599.8 260.0,599.0 C263.8,598.2 264.3,598.1 267.7,599.0 C271.0,599.9 269.6,601.4 272.7,602.3 C275.8,603.3 275.6,601.8 279.3,602.7 C283.1,603.6 282.5,605.0 286.7,605.7 C290.8,606.3 291.4,606.1 295.0,605.0 C298.6,603.9 296.9,604.3 300.0,601.7 C303.1,599.0 303.1,599.3 306.7,595.0 C310.2,590.7 309.6,589.9 313.3,585.7 C317.1,581.4 316.9,579.2 320.7,579.0 C324.4,578.8 324.0,584.9 327.3,585.0 C330.7,585.1 330.0,582.0 333.3,579.3 C336.7,576.7 336.4,574.2 340.0,575.0 C343.6,575.8 343.6,579.9 346.7,582.3 C349.8,584.7 348.6,582.2 351.7,584.0 C354.8,585.8 355.0,588.6 358.3,589.0 C361.6,589.4 360.9,585.8 364.0,585.7 C367.1,585.5 366.6,587.0 370.0,588.3 C373.4,589.7 373.6,589.2 376.7,590.7 C379.8,592.2 378.6,593.5 381.7,594.0 C384.8,594.5 385.0,591.9 388.3,592.7 C391.6,593.5 390.9,595.9 394.0,597.0 C397.1,598.1 396.8,597.6 400.0,596.7 C403.2,595.8 402.4,593.7 406.0,593.7 C409.6,593.7 410.0,595.4 413.3,596.7 C416.6,597.9 415.2,597.0 418.3,598.3 C421.4,599.7 421.4,600.4 425.0,601.7 C428.6,602.9 428.4,602.3 431.7,603.0 C435.0,603.7 434.2,603.4 437.3,604.3 C440.4,605.2 440.4,606.2 443.3,606.3 C446.3,606.5 445.5,606.8 448.3,605.0 C451.2,603.2 450.4,601.1 454.0,599.7 C457.6,598.2 458.3,598.2 461.7,599.7 C465.0,601.2 463.6,604.7 466.7,605.3 C469.8,606.0 469.8,602.6 473.3,602.0 C476.9,601.4 476.7,603.7 480.0,603.0 C483.3,602.3 482.6,599.4 485.7,599.3 C488.8,599.2 488.3,600.9 491.7,602.7 C495.0,604.4 495.2,606.4 498.3,606.0 C501.4,605.6 500.2,604.8 503.3,601.0 C506.4,597.2 506.4,595.5 510.0,591.7 C513.6,587.8 513.3,588.5 516.7,586.7 C520.0,584.8 519.7,586.6 522.7,584.7 C525.6,582.7 524.8,579.4 527.7,579.3 C530.5,579.2 530.0,581.9 533.3,584.3 C536.6,586.7 536.6,586.1 540.0,588.3 C543.4,590.6 542.9,592.8 546.0,592.7 C549.1,592.6 548.4,589.3 551.7,588.0 C555.0,586.7 554.8,587.8 558.3,587.7 C561.9,587.6 561.9,590.2 565.0,587.7 C568.1,585.2 567.1,581.5 570.0,578.3 C572.9,575.1 572.9,574.3 576.0,575.7 C579.1,577.0 578.4,579.1 581.7,583.3 C585.0,587.6 585.0,589.6 588.3,591.7 C591.7,593.7 591.2,592.7 594.3,591.0 C597.4,589.3 596.9,585.1 600.0,585.3 C603.1,585.6 602.6,590.3 606.0,592.0 C609.4,593.7 609.1,591.0 612.7,591.7 C616.2,592.4 617.4,593.9 619.3,594.7 C621.3,595.5 618.0,594.1 620.0,594.7 C622.0,595.2 623.1,595.7 626.7,596.7 C630.2,597.6 630.2,598.5 633.3,598.3 C636.4,598.2 635.7,597.5 638.3,596.0 C641.0,594.5 640.7,592.2 643.3,592.7 C646.0,593.1 645.2,594.8 648.3,597.7 C651.4,600.5 651.0,601.6 655.0,603.3 C659.0,605.1 658.9,603.6 663.3,604.3 C667.8,605.0 667.2,605.4 671.7,606.0 C676.1,606.6 676.0,607.2 680.0,606.7 C684.0,606.1 683.3,605.2 686.7,604.0 C690.0,602.8 689.6,603.5 692.7,602.0 C695.8,600.5 695.3,599.4 698.3,598.3 C701.4,597.3 700.9,599.9 704.0,598.0 C707.1,596.1 706.6,592.6 710.0,591.3 C713.4,590.1 711.8,592.9 716.7,593.3 C721.6,593.8 723.4,592.3 728.3,593.0 C733.2,593.7 731.9,594.8 735.0,596.0 C738.1,597.2 737.1,596.1 740.0,597.3 C742.9,598.6 742.4,600.0 746.0,600.7 C749.6,601.3 750.0,599.8 753.3,599.7 C756.6,599.5 755.2,601.2 758.3,600.0 C761.4,598.8 761.4,596.9 765.0,595.3 C768.6,593.7 768.4,594.5 771.7,594.0 C775.0,593.5 774.2,591.9 777.3,593.3 C780.4,594.8 780.1,598.7 783.3,599.3 C786.5,600.0 786.2,596.4 789.3,595.7 C792.4,595.0 791.7,596.2 795.0,596.7 C798.3,597.1 798.1,596.4 801.7,597.3 C805.2,598.3 804.8,599.6 808.3,600.3 C811.9,601.0 811.9,600.7 815.0,600.0 C818.1,599.3 817.3,598.0 820.0,597.7 C822.7,597.3 821.9,597.6 825.0,598.7 C828.1,599.7 828.1,601.1 831.7,601.7 C835.2,602.2 835.2,600.7 838.3,600.7 C841.4,600.7 840.7,603.0 843.3,601.7 C846.0,600.3 845.2,597.3 848.3,595.7 C851.4,594.1 851.4,597.4 855.0,595.7 C858.6,594.0 858.1,588.6 861.7,589.3 C865.2,590.0 864.8,595.5 868.3,598.3 C871.9,601.2 871.7,598.7 875.0,600.0 C878.3,601.3 877.6,602.9 880.7,603.3 C883.8,603.8 883.3,601.9 886.7,601.7 C890.0,601.4 890.0,602.2 893.3,602.3 C896.7,602.5 896.2,601.3 899.3,602.3 C902.4,603.4 901.7,605.4 905.0,606.3 C908.3,607.3 908.6,606.5 911.7,606.0 C914.8,605.5 914.0,605.1 916.7,604.3 C919.3,603.5 918.6,603.4 921.7,603.0 C924.8,602.6 924.3,602.5 928.3,603.0 C932.3,603.5 934.2,604.4 936.7,605.0 C939.1,605.6 937.3,605.1 937.5,605.2 L937.5,620.5 L18.3,620.5 Z" fill="#1f2440"/>
  <path d="M18.3,620.0 C19.5,618.9 18.7,617.1 22.7,616.0 C26.7,614.9 27.8,615.6 33.3,616.0 C38.8,616.4 38.0,617.1 43.3,617.3 C48.7,617.6 48.0,616.8 53.3,617.0 C58.7,617.2 56.7,617.6 63.3,618.0 C70.0,618.4 71.7,618.9 78.3,618.7 C85.0,618.4 83.9,617.4 88.3,617.0 C92.8,616.6 91.0,616.7 95.0,617.0 C99.0,617.3 98.4,617.9 103.3,618.0 C108.2,618.1 107.1,617.5 113.3,617.3 C119.6,617.2 119.6,617.9 126.7,617.3 C133.8,616.8 133.8,615.4 140.0,615.3 C146.2,615.2 142.9,616.6 150.0,617.0 C157.1,617.4 157.8,616.8 166.7,617.0 C175.6,617.2 174.4,617.6 183.3,617.7 C192.2,617.8 190.7,617.4 200.0,617.3 C209.3,617.2 210.8,618.0 218.3,617.3 C225.9,616.7 223.4,617.1 228.3,615.0 C233.2,612.9 232.2,612.3 236.7,609.3 C241.1,606.4 240.6,606.0 245.0,604.0 C249.4,602.0 249.3,603.3 253.3,602.0 C257.3,600.7 256.2,599.8 260.0,599.0 C263.8,598.2 264.3,598.1 267.7,599.0 C271.0,599.9 269.6,601.4 272.7,602.3 C275.8,603.3 275.6,601.8 279.3,602.7 C283.1,603.6 282.5,605.0 286.7,605.7 C290.8,606.3 291.4,606.1 295.0,605.0 C298.6,603.9 296.9,604.3 300.0,601.7 C303.1,599.0 303.1,599.3 306.7,595.0 C310.2,590.7 309.6,589.9 313.3,585.7 C317.1,581.4 316.9,579.2 320.7,579.0 C324.4,578.8 324.0,584.9 327.3,585.0 C330.7,585.1 330.0,582.0 333.3,579.3 C336.7,576.7 336.4,574.2 340.0,575.0 C343.6,575.8 343.6,579.9 346.7,582.3 C349.8,584.7 348.6,582.2 351.7,584.0 C354.8,585.8 355.0,588.6 358.3,589.0 C361.6,589.4 360.9,585.8 364.0,585.7 C367.1,585.5 366.6,587.0 370.0,588.3 C373.4,589.7 373.6,589.2 376.7,590.7 C379.8,592.2 378.6,593.5 381.7,594.0 C384.8,594.5 385.0,591.9 388.3,592.7 C391.6,593.5 390.9,595.9 394.0,597.0 C397.1,598.1 396.8,597.6 400.0,596.7 C403.2,595.8 402.4,593.7 406.0,593.7 C409.6,593.7 410.0,595.4 413.3,596.7 C416.6,597.9 415.2,597.0 418.3,598.3 C421.4,599.7 421.4,600.4 425.0,601.7 C428.6,602.9 428.4,602.3 431.7,603.0 C435.0,603.7 434.2,603.4 437.3,604.3 C440.4,605.2 440.4,606.2 443.3,606.3 C446.3,606.5 445.5,606.8 448.3,605.0 C451.2,603.2 450.4,601.1 454.0,599.7 C457.6,598.2 458.3,598.2 461.7,599.7 C465.0,601.2 463.6,604.7 466.7,605.3 C469.8,606.0 469.8,602.6 473.3,602.0 C476.9,601.4 476.7,603.7 480.0,603.0 C483.3,602.3 482.6,599.4 485.7,599.3 C488.8,599.2 488.3,600.9 491.7,602.7 C495.0,604.4 495.2,606.4 498.3,606.0 C501.4,605.6 500.2,604.8 503.3,601.0 C506.4,597.2 506.4,595.5 510.0,591.7 C513.6,587.8 513.3,588.5 516.7,586.7 C520.0,584.8 519.7,586.6 522.7,584.7 C525.6,582.7 524.8,579.4 527.7,579.3 C530.5,579.2 530.0,581.9 533.3,584.3 C536.6,586.7 536.6,586.1 540.0,588.3 C543.4,590.6 542.9,592.8 546.0,592.7 C549.1,592.6 548.4,589.3 551.7,588.0 C555.0,586.7 554.8,587.8 558.3,587.7 C561.9,587.6 561.9,590.2 565.0,587.7 C568.1,585.2 567.1,581.5 570.0,578.3 C572.9,575.1 572.9,574.3 576.0,575.7 C579.1,577.0 578.4,579.1 581.7,583.3 C585.0,587.6 585.0,589.6 588.3,591.7 C591.7,593.7 591.2,592.7 594.3,591.0 C597.4,589.3 596.9,585.1 600.0,585.3 C603.1,585.6 602.6,590.3 606.0,592.0 C609.4,593.7 609.1,591.0 612.7,591.7 C616.2,592.4 617.4,593.9 619.3,594.7 C621.3,595.5 618.0,594.1 620.0,594.7 C622.0,595.2 623.1,595.7 626.7,596.7 C630.2,597.6 630.2,598.5 633.3,598.3 C636.4,598.2 635.7,597.5 638.3,596.0 C641.0,594.5 640.7,592.2 643.3,592.7 C646.0,593.1 645.2,594.8 648.3,597.7 C651.4,600.5 651.0,601.6 655.0,603.3 C659.0,605.1 658.9,603.6 663.3,604.3 C667.8,605.0 667.2,605.4 671.7,606.0 C676.1,606.6 676.0,607.2 680.0,606.7 C684.0,606.1 683.3,605.2 686.7,604.0 C690.0,602.8 689.6,603.5 692.7,602.0 C695.8,600.5 695.3,599.4 698.3,598.3 C701.4,597.3 700.9,599.9 704.0,598.0 C707.1,596.1 706.6,592.6 710.0,591.3 C713.4,590.1 711.8,592.9 716.7,593.3 C721.6,593.8 723.4,592.3 728.3,593.0 C733.2,593.7 731.9,594.8 735.0,596.0 C738.1,597.2 737.1,596.1 740.0,597.3 C742.9,598.6 742.4,600.0 746.0,600.7 C749.6,601.3 750.0,599.8 753.3,599.7 C756.6,599.5 755.2,601.2 758.3,600.0 C761.4,598.8 761.4,596.9 765.0,595.3 C768.6,593.7 768.4,594.5 771.7,594.0 C775.0,593.5 774.2,591.9 777.3,593.3 C780.4,594.8 780.1,598.7 783.3,599.3 C786.5,600.0 786.2,596.4 789.3,595.7 C792.4,595.0 791.7,596.2 795.0,596.7 C798.3,597.1 798.1,596.4 801.7,597.3 C805.2,598.3 804.8,599.6 808.3,600.3 C811.9,601.0 811.9,600.7 815.0,600.0 C818.1,599.3 817.3,598.0 820.0,597.7 C822.7,597.3 821.9,597.6 825.0,598.7 C828.1,599.7 828.1,601.1 831.7,601.7 C835.2,602.2 835.2,600.7 838.3,600.7 C841.4,600.7 840.7,603.0 843.3,601.7 C846.0,600.3 845.2,597.3 848.3,595.7 C851.4,594.1 851.4,597.4 855.0,595.7 C858.6,594.0 858.1,588.6 861.7,589.3 C865.2,590.0 864.8,595.5 868.3,598.3 C871.9,601.2 871.7,598.7 875.0,600.0 C878.3,601.3 877.6,602.9 880.7,603.3 C883.8,603.8 883.3,601.9 886.7,601.7 C890.0,601.4 890.0,602.2 893.3,602.3 C896.7,602.5 896.2,601.3 899.3,602.3 C902.4,603.4 901.7,605.4 905.0,606.3 C908.3,607.3 908.6,606.5 911.7,606.0 C914.8,605.5 914.0,605.1 916.7,604.3 C919.3,603.5 918.6,603.4 921.7,603.0 C924.8,602.6 924.3,602.5 928.3,603.0 C932.3,603.5 934.2,604.4 936.7,605.0 C939.1,605.6 937.3,605.1 937.5,605.2" fill="none" stroke="#3b63d8" stroke-width="1.4" stroke-linejoin="round"/>
  <g font-size="14.5" fill="#9398ac" text-anchor="middle" letter-spacing="0.2"><text x="120" y="640">Jul '23</text><text x="279.5" y="640">Jan '24</text><text x="438" y="640">Jul '24</text><text x="598" y="640">Jan '25</text><text x="754.5" y="640">Jul '25</text><text x="938" y="640" text-anchor="end">Jan '26</text></g>
  <rect x="926.5" y="583" width="18" height="23.2" rx="9" fill="#1c1f2d"/>
  <path d="M933.6,590.5 V599.5 M937.4,590.5 V599.5" stroke="#cfd3dc" stroke-width="1.3"/>
</svg>
</body></html>
